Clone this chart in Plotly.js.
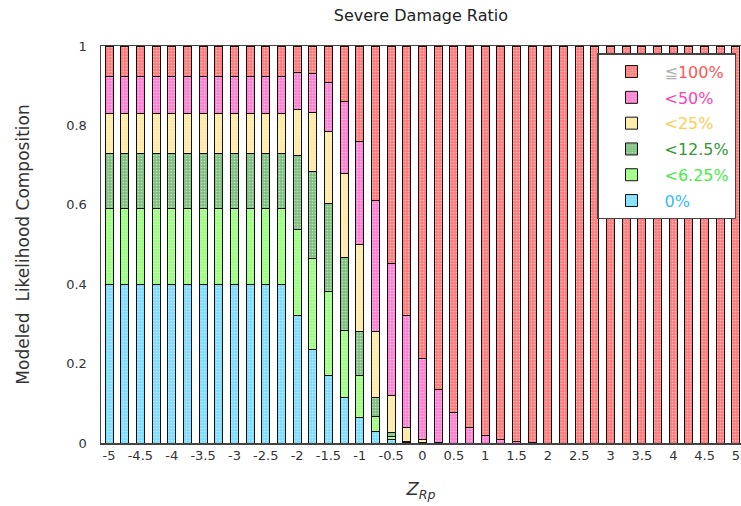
<!DOCTYPE html>
<html>
<head>
<meta charset="utf-8">
<script src="https://cdn.plot.ly/plotly-3.0.1.min.js"></script>
<style>html,body{margin:0;padding:0;background:#fff;}#chart{width:741px;height:506px;}</style>
</head>
<body>
<div id="chart"></div>
<script>
// Z_Rp positions of the bars
var zrp = [-5,-4.75,-4.5,-4.25,-4,-3.75,-3.5,-3.25,-3,-2.75,-2.5,-2.25,
           -2,-1.75,-1.5,-1.25,-1,-0.75,-0.5,-0.25,0,0.25,0.5,0.75,1,1.25,1.5,1.75,
           2,2.25,2.5,2.75,3,3.25,3.5,3.75,4,4.25,4.5,4.75,5];

var tickVals = [-5,-4.5,-4,-3.5,-3,-2.5,-2,-1.5,-1,-0.5,0,0.5,1,1.5,2,2.5,3,3.5,4,4.5,5];
var tickText = ['-5','-4.5','-4','-3.5','-3','-2.5','-2','-1.5','-1','-0.5','0','0.5','1','1.5','2','2.5','3','3.5','4','4.5','5'];

// likelihood shares per damage-ratio class
var share0 =    [0.40,0.40,0.40,0.40,0.40,0.40,0.40,0.40,0.40,0.40,0.40,0.40,
                 0.320,0.236,0.171,0.114,0.065,0.029,0.008,0.001,0,0,0,0,0,0,0,0,
                 0,0,0,0,0,0,0,0,0,0,0,0,0];
var share625 =  [0.19,0.19,0.19,0.19,0.19,0.19,0.19,0.19,0.19,0.19,0.19,0.19,
                 0.218,0.229,0.211,0.169,0.105,0.038,0.009,0.001,0,0,0,0,0,0,0,0,
                 0,0,0,0,0,0,0,0,0,0,0,0,0];
var share125 =  [0.14,0.14,0.14,0.14,0.14,0.14,0.14,0.14,0.14,0.14,0.14,0.14,
                 0.185,0.219,0.222,0.185,0.111,0.047,0.010,0.003,0.001,0,0,0,0,0,0,0,
                 0,0,0,0,0,0,0,0,0,0,0,0,0];
var share25 =   [0.10,0.10,0.10,0.10,0.10,0.10,0.10,0.10,0.10,0.10,0.10,0.10,
                 0.117,0.149,0.180,0.211,0.219,0.167,0.092,0.034,0.007,0.001,0,0,0,0,0,0,
                 0,0,0,0,0,0,0,0,0,0,0,0,0];
var share50 =   [0.094,0.094,0.094,0.094,0.094,0.094,0.094,0.094,0.094,0.094,0.094,0.094,
                 0.094,0.098,0.125,0.182,0.260,0.329,0.332,0.281,0.206,0.133,0.078,0.039,0.018,0.008,0.004,0.001,
                 0,0,0,0,0,0,0,0,0,0,0,0,0];
var share100 =  [0.076,0.076,0.076,0.076,0.076,0.076,0.076,0.076,0.076,0.076,0.076,0.076,
                 0.066,0.069,0.091,0.139,0.240,0.390,0.549,0.680,0.786,0.866,0.922,0.961,0.982,0.992,0.996,0.999,
                 1,1,1,1,1,1,1,1,1,1,1,1,1];

var seriesNames = [
  '<span style="color:#33bbff">0%</span>',
  '<span style="color:#44ee44">&lt;6.25%</span>',
  '<span style="color:#339933">&lt;12.5%</span>',
  '<span style="color:#ffcc55">&lt;25%</span>',
  '<span style="color:#ff44aa">&lt;50%</span>',
  '<span style="color:#b0b0b0">≦</span><span style="color:#ff5555">100%</span>'
];
var seriesValues = [share0, share625, share125, share25, share50, share100];
var seriesColors = ['#7ddcff','#9cff80','#7fbf7f','#ffe9a3','#ff7fd0','#ff7a7a'];

var traces = seriesValues.map(function(v, i){
  return {
    type: 'bar', x: zrp, y: v, name: seriesNames[i],
    legendgroup: 'g' + i, legendrank: 6 - i,
    marker: {color: seriesColors[i], line: {color: '#111', width: 1},
             pattern: {shape: '.', fgcolor: '#ffffff', size: 3, solidity: 0.25, fillmode: 'overlay'}},
    hoverinfo: 'x+y'
  };
});

var layout = {
  width: 741, height: 506,
  margin: {l: 101, r: 0, t: 46, b: 63},
  paper_bgcolor: '#fff', plot_bgcolor: '#fff',
  barmode: 'stack', bargap: 0.49,
  font: {family: 'DejaVu Sans, sans-serif', size: 12, color: '#333'},
  title: {text: 'Severe Damage Ratio', font: {size: 16, color: '#222'}, x: 0.568, xanchor: 'center', y: 0.97, yanchor: 'middle'},
  xaxis: {range: [-5.128, 5.08], tickvals: tickVals, ticktext: tickText, ticks: '', showgrid: false, zeroline: false,
          showline: true, linecolor: '#444', linewidth: 1.5, mirror: true,
          title: {text: '<i>Z</i><sub><i>Rp</i></sub>', font: {size: 18, color: '#333'}, standoff: 20},
          tickfont: {size: 13, color: '#333'}},
  yaxis: {range: [0, 1], tickvals: [0,0.2,0.4,0.6,0.8,1], ticktext: ['0','0.2','0.4','0.6','0.8','1'], ticks: '', showgrid: false, zeroline: false,
          showline: true, linecolor: '#444', linewidth: 1.5, mirror: true, ticklabelstandoff: 10,
          title: {text: 'Modeled  Likelihood Composition', font: {size: 17, color: '#333'}, standoff: 32},
          tickfont: {size: 13, color: '#333'}},
  legend: {x: 0.775, y: 0.982, xanchor: 'left', yanchor: 'top', traceorder: 'grouped', tracegroupgap: 2,
           bgcolor: '#fff', bordercolor: '#444', borderwidth: 1.5, font: {size: 16}, itemwidth: 56},
  showlegend: true
};

Plotly.newPlot('chart', traces, layout, {displayModeBar: false, staticPlot: true});
</script>
</body>
</html>
